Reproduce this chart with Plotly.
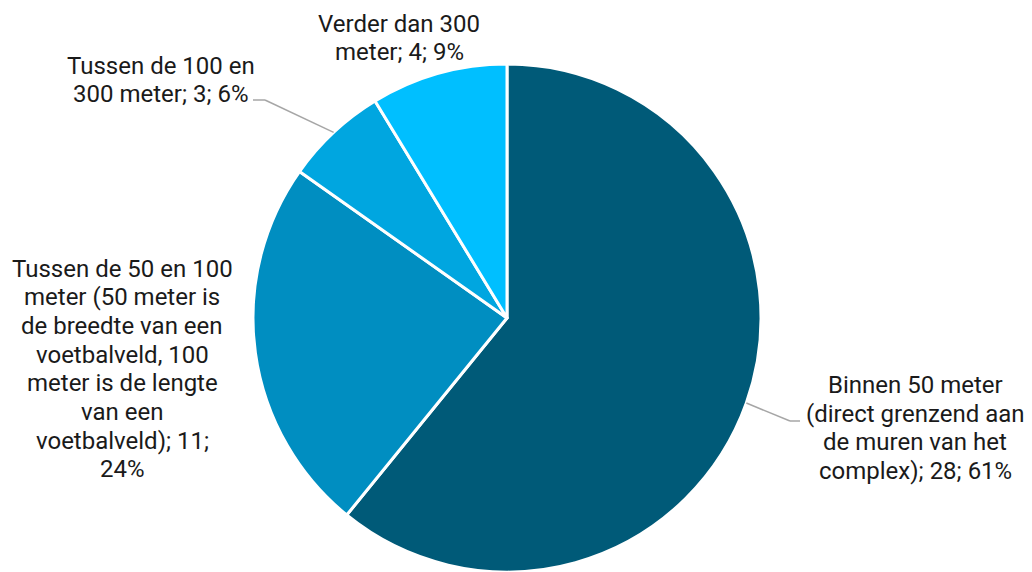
import math
import plotly.graph_objects as go

categories = [
    "Binnen 50 meter (direct grenzend aan de muren van het complex)",
    "Tussen de 50 en 100 meter (50 meter is de breedte van een voetbalveld, 100 meter is de lengte van een voetbalveld)",
    "Tussen de 100 en 300 meter",
    "Verder dan 300 meter",
]
values = [28, 11, 3, 4]
label_lines = [
    ["Binnen 50 meter", "(direct grenzend aan", "de muren van het", "complex); 28; 61%"],
    ["Tussen de 50 en 100", "meter (50 meter is", "de breedte van een", "voetbalveld, 100",
     "meter is de lengte", "van een", "voetbalveld); 11;", "24%"],
    ["Tussen de 100 en", "300 meter; 3; 6%"],
    ["Verder dan 300", "meter; 4; 9%"],
]
colors = ["#005A78", "#008EC1", "#00A6E0", "#00BFFF"]

W, H = 1032, 572
cx_px, cy_px, r_px = 507, 318, 254
LINE_H = 28.7

fig = go.Figure(go.Pie(
    labels=categories,
    values=values,
    sort=False,
    direction="clockwise",
    rotation=0,
    marker=dict(colors=colors, line=dict(color="white", width=3)),
    textinfo="none",
    hoverinfo="label+value+percent",
    domain=dict(x=[(cx_px - r_px) / W, (cx_px + r_px) / W], y=[0, (H - (cy_px - r_px)) / H]),
    showlegend=False,
))

# label block centres (pixels)
label_pos = [(915, 428), (122, 369), (161, 80), (399, 38)]
font = dict(family="Roboto", size=24, color="#1a1a1a")

def px2paper(x, y):
    return x / W, 1 - y / H

annotations = []
for lines, (lx, ly) in zip(label_lines, label_pos):
    n = len(lines)
    for k, line in enumerate(lines):
        yy = ly + (k - (n - 1) / 2) * LINE_H
        x, y = px2paper(lx, yy)
        annotations.append(dict(text=line, x=x, y=y, xref="paper", yref="paper",
                                showarrow=False, font=font, align="center",
                                xanchor="center", yanchor="middle"))

# leader lines from slice mid-angles
total = sum(values)
shapes = []
leader = {0: (790, 421, 800), 2: (265, 100, 253)}
cum = 0
mids = []
for v in values:
    mids.append((cum + v / 2) / total * 2 * math.pi)
    cum += v
for i, (kx, ky, ex) in leader.items():
    a = mids[i]
    sx = cx_px + r_px * math.sin(a)
    sy = cy_px - r_px * math.cos(a)
    for (x0, y0, x1, y1) in [(sx, sy, kx, ky), (kx, ky, ex, ky)]:
        p0 = px2paper(x0, y0)
        p1 = px2paper(x1, y1)
        shapes.append(dict(type="line", xref="paper", yref="paper",
                           x0=p0[0], y0=p0[1], x1=p1[0], y1=p1[1],
                           line=dict(color="#A6A6A6", width=1.5)))

fig.update_layout(
    width=W, height=H,
    margin=dict(l=0, r=0, t=0, b=0),
    paper_bgcolor="white",
    annotations=annotations,
    shapes=shapes,
)
fig.write_html("out.html", config={"displayModeBar": False},
               post_script="document.body.style.margin='0';document.body.style.overflow='hidden';")
